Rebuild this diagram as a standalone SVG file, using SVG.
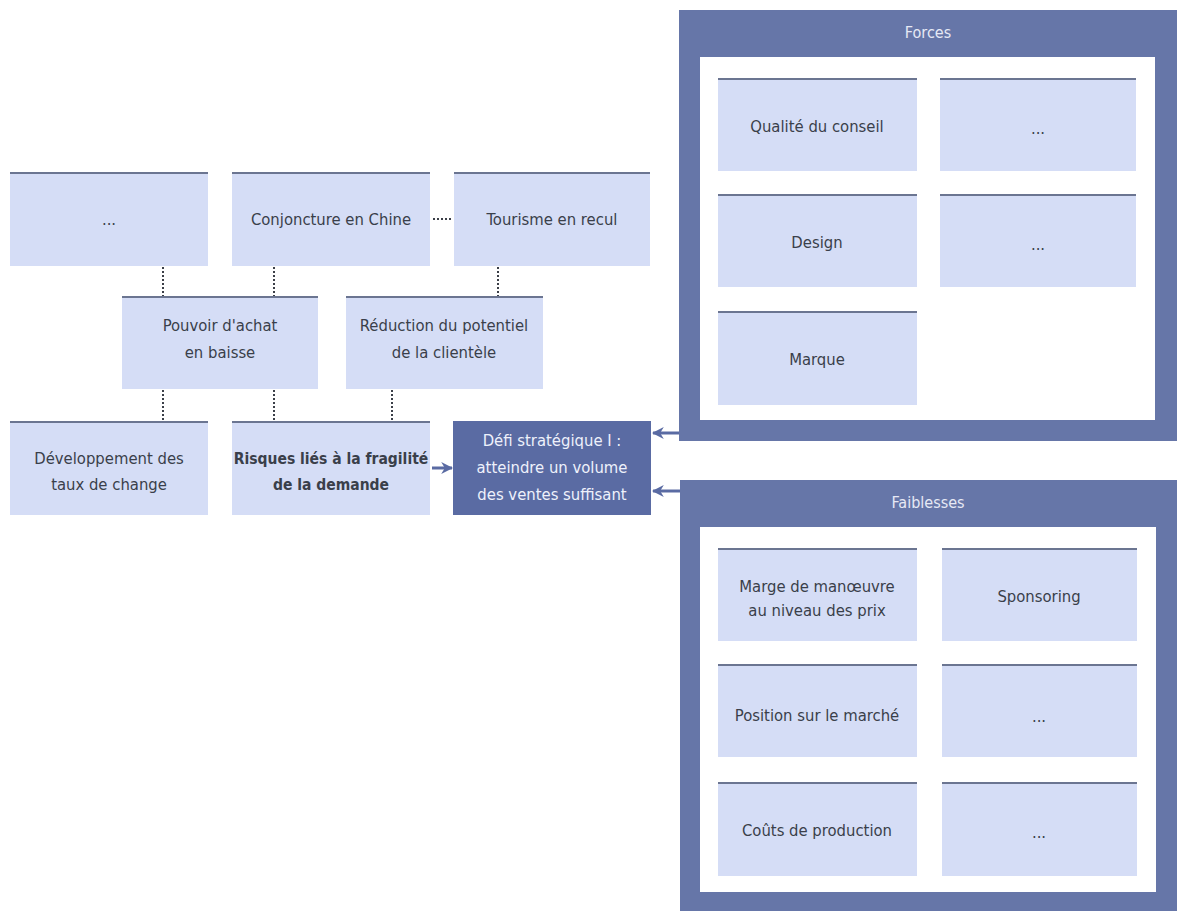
<svg xmlns="http://www.w3.org/2000/svg" width="1177" height="911" viewBox="0 0 1177 911">
<defs>
<style>
.box{fill:#d5ddf6}
.top{stroke:#6b7591;stroke-width:2}
.t{font-family:"DejaVu Sans Condensed","DejaVu Sans",sans-serif;font-stretch:condensed;font-size:16.5px;fill:#3a3f4a;text-anchor:middle}
.b{font-weight:bold;font-size:15.5px}
.w{fill:#eef1fb}
.dark{fill:#5a6ba3}
.frame{fill:#6676a8}
.inner{fill:#ffffff}
.dot{stroke:#3b3f48;stroke-width:2;stroke-dasharray:2 2;fill:none}
.arr{stroke:#5a6ba3;stroke-width:3;fill:none}
.ttl{font-family:"DejaVu Sans Condensed","DejaVu Sans",sans-serif;font-stretch:condensed;font-size:16px;fill:#e6e9f5;text-anchor:middle}
</style>
<marker id="ah" viewBox="0 0 10 10" refX="9" refY="5" markerWidth="4" markerHeight="4" orient="auto-start-reverse" markerUnits="strokeWidth">
<path d="M0,0 L10,5 L0,10 L3,5 Z" fill="#5a6ba3"/>
</marker>
</defs>
<rect width="1177" height="911" fill="#ffffff"/>

<g id="connectors">
<line class="dot" x1="163" y1="267" x2="163" y2="296"/>
<line class="dot" x1="274" y1="267" x2="274" y2="296"/>
<line class="dot" x1="498" y1="267" x2="498" y2="296"/>
<line class="dot" x1="433" y1="219" x2="452" y2="219"/>
<line class="dot" x1="163" y1="390" x2="163" y2="421"/>
<line class="dot" x1="274" y1="390" x2="274" y2="421"/>
<line class="dot" x1="392" y1="390" x2="392" y2="421"/>
<line class="arr" x1="432" y1="468" x2="452" y2="468" marker-end="url(#ah)"/>
<line class="arr" x1="679" y1="433" x2="653" y2="433" marker-end="url(#ah)"/>
<line class="arr" x1="680" y1="491" x2="653" y2="491" marker-end="url(#ah)"/>
</g>

<g id="n-etc1">
<rect class="box" x="10" y="172" width="198" height="94"/>
<line class="top" x1="10" y1="173" x2="208" y2="173"/>
<text class="t" x="109" y="225">...</text>
</g>
<g id="n-conjoncture">
<rect class="box" x="232" y="172" width="198" height="94"/>
<line class="top" x1="232" y1="173" x2="430" y2="173"/>
<text class="t" x="331" y="225">Conjoncture en Chine</text>
</g>
<g id="n-tourisme">
<rect class="box" x="454" y="172" width="196" height="94"/>
<line class="top" x1="454" y1="173" x2="650" y2="173"/>
<text class="t" x="552" y="225">Tourisme en recul</text>
</g>
<g id="n-pouvoir">
<rect class="box" x="122" y="296" width="196" height="93"/>
<line class="top" x1="122" y1="297" x2="318" y2="297"/>
<text class="t" x="220" y="331">Pouvoir d'achat</text>
<text class="t" x="220" y="358">en baisse</text>
</g>
<g id="n-reduction">
<rect class="box" x="346" y="296" width="197" height="93"/>
<line class="top" x1="346" y1="297" x2="543" y2="297"/>
<text class="t" x="444" y="331">Réduction du potentiel</text>
<text class="t" x="444" y="358">de la clientèle</text>
</g>
<g id="n-developpement">
<rect class="box" x="10" y="421" width="198" height="94"/>
<line class="top" x1="10" y1="422" x2="208" y2="422"/>
<text class="t" x="109" y="464">Développement des</text>
<text class="t" x="109" y="490">taux de change</text>
</g>
<g id="n-risques">
<rect class="box" x="232" y="421" width="198" height="94"/>
<line class="top" x1="232" y1="422" x2="430" y2="422"/>
<text class="t b" x="331" y="464">Risques liés à la fragilité</text>
<text class="t b" x="331" y="490">de la demande</text>
</g>
<g id="n-defi">
<rect class="dark" x="453" y="421" width="198" height="94"/>
<text class="t w" x="552" y="446">Défi stratégique I :</text>
<text class="t w" x="552" y="473">atteindre un volume</text>
<text class="t w" x="552" y="500">des ventes suffisant</text>
</g>

<g id="forces">
<rect class="frame" x="679" y="10" width="498" height="431"/>
<rect class="inner" x="700" y="57" width="455" height="363"/>
<text class="ttl" x="928" y="38">Forces</text>
</g>
<g id="f-qualite">
<rect class="box" x="718" y="78" width="199" height="93"/>
<line class="top" x1="718" y1="79" x2="917" y2="79"/>
<text class="t" x="817" y="132">Qualité du conseil</text>
</g>
<g id="f-etc1">
<rect class="box" x="940" y="78" width="196" height="93"/>
<line class="top" x1="940" y1="79" x2="1136" y2="79"/>
<text class="t" x="1038" y="134" font-size="13">...</text>
</g>
<g id="f-design">
<rect class="box" x="718" y="194" width="199" height="93"/>
<line class="top" x1="718" y1="195" x2="917" y2="195"/>
<text class="t" x="817" y="248">Design</text>
</g>
<g id="f-etc2">
<rect class="box" x="940" y="194" width="196" height="93"/>
<line class="top" x1="940" y1="195" x2="1136" y2="195"/>
<text class="t" x="1038" y="250" font-size="13">...</text>
</g>
<g id="f-marque">
<rect class="box" x="718" y="311" width="199" height="94"/>
<line class="top" x1="718" y1="312" x2="917" y2="312"/>
<text class="t" x="817" y="365">Marque</text>
</g>

<g id="faiblesses">
<rect class="frame" x="680" y="480" width="497" height="431"/>
<rect class="inner" x="700" y="527" width="456" height="365"/>
<text class="ttl" x="928" y="508">Faiblesses</text>
</g>
<g id="w-marge">
<rect class="box" x="718" y="548" width="199" height="93"/>
<line class="top" x1="718" y1="549" x2="917" y2="549"/>
<text class="t" x="817" y="592">Marge de manœuvre</text>
<text class="t" x="817" y="616">au niveau des prix</text>
</g>
<g id="w-sponsoring">
<rect class="box" x="942" y="548" width="195" height="93"/>
<line class="top" x1="942" y1="549" x2="1137" y2="549"/>
<text class="t" x="1039" y="602">Sponsoring</text>
</g>
<g id="w-position">
<rect class="box" x="718" y="664" width="199" height="93"/>
<line class="top" x1="718" y1="665" x2="917" y2="665"/>
<text class="t" x="817" y="721">Position sur le marché</text>
</g>
<g id="w-etc1">
<rect class="box" x="942" y="664" width="195" height="93"/>
<line class="top" x1="942" y1="665" x2="1137" y2="665"/>
<text class="t" x="1039" y="722" font-size="13">...</text>
</g>
<g id="w-couts">
<rect class="box" x="718" y="782" width="199" height="94"/>
<line class="top" x1="718" y1="783" x2="917" y2="783"/>
<text class="t" x="817" y="836">Coûts de production</text>
</g>
<g id="w-etc2">
<rect class="box" x="942" y="782" width="195" height="94"/>
<line class="top" x1="942" y1="783" x2="1137" y2="783"/>
<text class="t" x="1039" y="838" font-size="13">...</text>
</g>
</svg>
